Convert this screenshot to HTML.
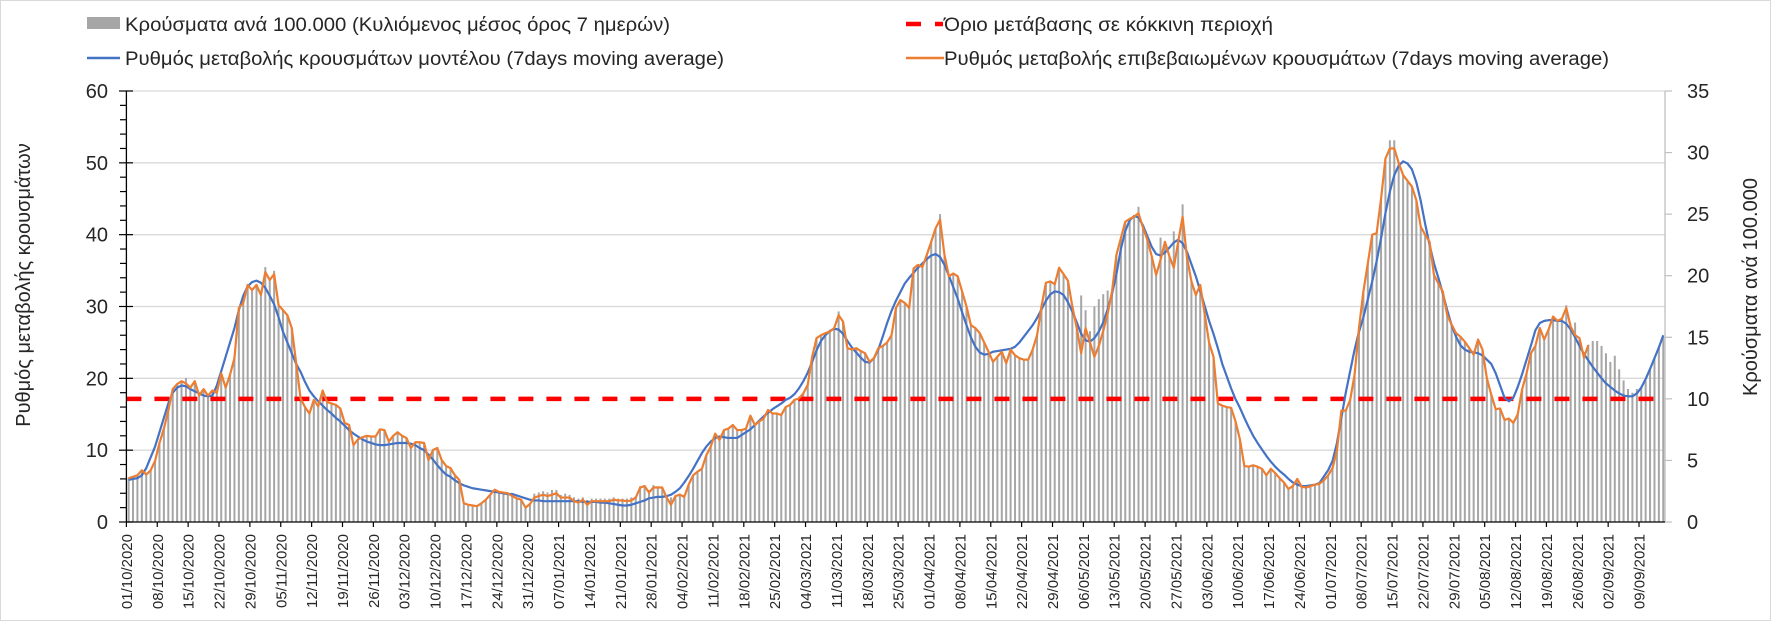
<!DOCTYPE html>
<html><head><meta charset="utf-8"><title>Chart</title>
<style>
html,body{margin:0;padding:0;background:#fff;}
svg{display:block;font-family:"Liberation Sans","DejaVu Sans",sans-serif;}
</style></head>
<body>
<svg id="chart" width="1771" height="621" viewBox="0 0 1771 621" xmlns="http://www.w3.org/2000/svg">
<rect x="0.5" y="0.5" width="1770" height="620" fill="#fff" stroke="#d9d9d9"/>
<g id="grid"></g>
<g id="bars"></g>
<g id="lines"></g>
<g id="axes"></g>
<text transform="translate(30,285) rotate(-90)" text-anchor="middle" font-size="20" fill="#262626">Ρυθμός μεταβολής κρουσμάτων</text>
<text transform="translate(1757,287) rotate(-90)" text-anchor="middle" font-size="20" fill="#262626">Κρούσματα ανά 100.000</text>
<g font-size="19" fill="#262626">
  <g>
    <rect x="87" y="17" width="33" height="12" fill="#a6a6a6"/>
    <text x="125" y="31" textLength="545" lengthAdjust="spacingAndGlyphs">Κρούσματα ανά 100.000 (Κυλιόμενος μέσος όρος 7 ημερών)</text>
  </g>
  <g>
    <line x1="87" y1="58" x2="120" y2="58" stroke="#4472c4" stroke-width="2.5"/>
    <text x="125" y="65" textLength="599" lengthAdjust="spacingAndGlyphs">Ρυθμός μεταβολής κρουσμάτων μοντέλου (7days moving average)</text>
  </g>
  <g>
    <line x1="906" y1="24" x2="921" y2="24" stroke="#ff0000" stroke-width="4.5"/>
    <line x1="935" y1="24" x2="943" y2="24" stroke="#ff0000" stroke-width="4.5"/>
    <text x="944" y="31" textLength="329" lengthAdjust="spacingAndGlyphs">Όριο μετάβασης σε κόκκινη περιοχή</text>
  </g>
  <g>
    <line x1="906" y1="58" x2="944" y2="58" stroke="#ed7d31" stroke-width="2.5"/>
    <text x="944" y="65" textLength="665" lengthAdjust="spacingAndGlyphs">Ρυθμός μεταβολής επιβεβαιωμένων κρουσμάτων (7days moving average)</text>
  </g>
</g>
</svg>
<script>
const tickLabels = ["01/10/2020","08/10/2020","15/10/2020","22/10/2020","29/10/2020","05/11/2020","12/11/2020","19/11/2020","26/11/2020","03/12/2020","10/12/2020","17/12/2020","24/12/2020","31/12/2020","07/01/2021","14/01/2021","21/01/2021","28/01/2021","04/02/2021","11/02/2021","18/02/2021","25/02/2021","04/03/2021","11/03/2021","18/03/2021","25/03/2021","01/04/2021","08/04/2021","15/04/2021","22/04/2021","29/04/2021","06/05/2021","13/05/2021","20/05/2021","27/05/2021","03/06/2021","10/06/2021","17/06/2021","24/06/2021","01/07/2021","08/07/2021","15/07/2021","22/07/2021","29/07/2021","05/08/2021","12/08/2021","19/08/2021","26/08/2021","02/09/2021","09/09/2021"];
const leftTicks = [0,10,20,30,40,50,60];
const rightTicks = [0,5,10,15,20,25,30,35];
const redThreshold = 10; // right-axis units
const confirmedRate = [
6.1,6.3,6.5,7.2,6.6,7.2,8.5,11,13,15.5,
18.5,19.2,19.6,19.3,18.7,19.6,17.6,18.5,17.6,18.3,
18,20.7,18.7,20.5,22.8,29.8,30.5,33,32.3,33,
31.6,34.8,33.7,34.5,30.2,29.5,28.8,27,22.1,17.2,
16,15.1,17,16.1,18.3,16.7,16.5,16.3,15.8,13.8,
13.5,10.7,11.5,11.8,12,11.9,11.9,12.9,12.8,11.2,
12,12.5,12,11.7,10.3,11.1,11.1,11,8.6,10,
10.3,8.6,7.8,7.5,6.5,5.85,2.6,2.4,2.3,2.2,
2.6,3.1,3.8,4.5,4.2,4.1,4,3.6,3.3,3.1,
2,2.5,3.4,3.6,3.8,3.6,3.8,4,3.4,3.4,
3.4,2.9,2.7,3.1,2.4,2.9,2.9,2.9,2.9,2.9,
3.1,3,3,2.9,3,3.4,4.8,5,4.1,4.8,
4.8,4.8,3.4,2.4,3.6,3.8,3.5,5.2,6.5,7,
7.4,9.3,10.5,12.3,11.4,12.8,13,13.5,12.8,12.8,
13,14.8,13.5,14,14.4,15.6,15.1,15.1,14.9,16,
16.3,17,17.2,17.9,19.1,23,25.6,26,26.3,26.5,
27,28.8,27.9,24.2,24,24.2,23.8,23.5,22.3,22.8,
24.2,24.5,25,26,29.8,30.9,30.5,29.8,35.3,35.8,
35.5,37.2,39,40.9,42.1,37.2,34.2,34.6,34.2,32.1,
30,27.4,27,26.3,25,23.7,22.3,23,23.7,22.1,
24,23.2,22.8,22.6,22.6,24,26,30,33.3,33.5,
33.1,35.4,34.5,33.6,30,27,23.5,27,25,23,
24.5,26.6,29,32.1,37.2,39.5,41.8,42.2,42.5,43,
41,39.3,37,34.4,36.5,39,37,35.4,39,42.5,
36.8,33.5,31.6,33,29,25,23,16.5,16.2,16,
15.9,14,11.5,7.8,7.7,7.9,7.7,7.4,6.5,7.4,
6.8,6.1,5.5,4.6,5,6,4.9,4.8,5,5.2,
5.3,5.8,6.5,7.5,10,15.5,15.5,17,20.5,27,
32.1,36,40,40.2,45,50.6,52,52,50,48.3,
47.5,46.7,44.8,41.1,40,39,34.4,33.2,32.1,28.8,
27.5,26.3,25.8,25.1,24.2,23.3,25.4,24,20,17.7,
15.7,15.8,14.2,14.4,13.8,15,18.5,20.7,23.5,24.5,
27,25.4,26.8,28.6,28,28.3,29.8,27.2,26,25.6,
22.9,24.6];
const modelRate = [
5.85,6,6.1,6.5,7.5,9,10.5,12.5,14.5,16.5,
18,18.7,19,18.9,18.5,18.2,17.9,17.6,17.5,17.6,
19,21,23,25,27,29.5,31.5,32.8,33.4,33.6,
33.3,32.6,31.5,30.3,28.5,26.5,25,23.5,22,20.9,
19.5,18.3,17.5,16.8,16.2,15.6,15.1,14.5,14,13.4,
12.8,12.3,11.9,11.5,11.2,11,10.8,10.7,10.7,10.8,
10.9,11,11,11,10.9,10.7,10.3,10,9.4,8.7,
7.9,7.2,6.6,6.3,5.8,5.4,5.1,4.9,4.7,4.6,
4.5,4.4,4.3,4.2,4.1,4,3.9,3.9,3.7,3.5,
3.3,3.1,3,3,2.9,2.9,2.9,2.9,2.9,2.9,
2.9,2.9,2.9,2.8,2.8,2.8,2.8,2.7,2.7,2.6,
2.5,2.4,2.3,2.3,2.4,2.6,2.8,3,3.3,3.4,
3.5,3.5,3.6,3.8,4.2,4.7,5.5,6.4,7.4,8.5,
9.6,10.5,11.2,11.7,11.9,11.8,11.7,11.7,11.7,12.1,
12.5,12.9,13.5,14.1,14.7,15.2,15.7,16.1,16.5,17,
17.3,17.8,18.6,19.6,20.8,22.3,23.9,25.2,26,26.6,
26.9,26.8,26.2,25.2,24.3,23.6,22.9,22.3,22.2,22.8,
24,25.8,27.7,29.4,30.8,32,33.2,34,34.7,35.4,
36,36.6,37.1,37.3,36.9,35.8,34.3,32.7,31.1,29.2,
27.4,25.7,24.4,23.6,23.3,23.4,23.7,23.8,23.9,24,
24.1,24.4,25,25.8,26.6,27.4,28.4,29.6,30.8,31.7,
32.1,32,31.6,30.6,29.3,27.8,26.2,25.3,25.1,25.6,
26.5,27.8,29.6,31.8,34.5,38,40.5,42,42.6,42.4,
41.3,39.8,38.3,37.3,37.1,37.5,38.2,38.9,39.3,38.8,
37.6,35.9,34.2,32.2,30.1,28,26.2,24.2,22,20.3,
18.6,17.1,15.9,14.5,13.2,12,11,10.1,9.2,8.4,
7.7,7.1,6.6,6,5.5,5.2,5,5,5.1,5.2,
5.4,6.3,7.2,8.5,11,14.5,18,21,24,26.5,
28.5,31,33.5,36.3,39.5,43,46,48.3,49.6,50.2,
49.9,49.1,47.3,44.7,41.5,38.6,36,34,31.8,29.5,
27.4,25.8,24.6,24,23.7,23.6,23.5,23.2,22.6,22,
20.7,19,17.3,16.8,17.3,18.8,20.6,22.6,24.6,26.7,
27.7,28,28.1,28.1,28,28,27.6,26.8,25.7,24.5,
23.4,22.5,21.6,20.8,20,19.3,18.8,18.3,17.9,17.6,
17.5,17.5,17.9,18.7,19.9,21.3,22.8,24.3,26];
const casesPer100k = [
3.6,3.7,3.8,4.2,3.9,4.2,5,6.4,7.6,9,
10.8,11.2,11.4,11.7,10.9,11.4,10.3,10.8,10.3,10.7,
10.5,12.1,10.9,12,13.3,17.4,17.8,19.3,18.8,19.3,
18.4,20.7,19.7,20.4,17.6,17.2,16.8,15.8,12.9,10,
9.3,8.8,9.9,9.4,10.7,9.7,9.6,9.5,9.2,8.1,
7.9,6.2,6.7,6.9,7,6.9,6.9,7.5,7.5,6.5,
7,7.3,7,6.8,6,6.5,6.5,6.4,5,5.8,
6,5,4.6,4.4,3.8,3.4,1.5,1.4,1.3,1.3,
1.5,1.8,2.2,2.6,2.5,2.4,2.3,2.1,1.9,1.8,
1.2,1.5,2.3,2.4,2.5,2.4,2.6,2.6,2.2,2.3,
2.2,2,1.9,2,1.8,1.9,1.9,1.9,1.9,1.9,
2,1.9,1.9,1.9,2,2.1,2.9,3,2.6,3,
2.9,2.8,2.2,2,2.2,2.3,2.2,3,3.8,4.1,
4.3,5.4,6.1,7.2,6.6,7.5,7.6,7.9,7.5,7.5,
7.6,8.6,7.9,8.2,8.4,9.1,8.8,8.8,8.7,9.3,
9.5,9.9,10,10.4,11.1,13.4,14.9,15.2,15.3,15.5,
15.8,17.1,16.3,14.1,14,14.1,13.9,13.7,13,13.3,
14.1,14.3,14.6,15.2,17.4,18,17.8,17.4,20.6,20.9,
20.7,21.7,22.8,23.9,25,21.7,19.9,20.2,20,18.7,
17.5,16,15.8,15.3,14.6,13.8,13,13.4,13.8,12.9,
14,13.5,13.3,13.2,13.2,14,15.2,17.5,19.4,19.5,
19.3,20.6,20.1,19.6,17.5,15.8,18.4,17.2,15.5,17.5,
18.1,18.5,18.8,18.7,21.7,23,24.4,24.6,24.8,25.6,
23.9,22.9,21.6,20.1,23.1,22.8,21.6,23.6,22.8,25.8,
21.5,19.5,18.4,19.3,16.9,14.6,13.4,9.6,9.4,9.3,
9.3,8.2,6.7,4.6,4.5,4.6,4.5,4.3,3.8,4.3,
4,3.6,3.2,2.7,2.9,3.5,2.9,2.8,2.9,3,
3.1,3.4,3.8,4.4,5.8,9,9,9.9,12,15.8,
18.7,21,23.3,23.5,26.3,29.5,31,31,29.2,28.2,
27.7,27.2,26.1,24,23.3,22.8,20.1,19.4,18.7,16.8,
16,15.3,15.1,14.6,14.1,13.6,14.8,14,11.7,10.3,
9.2,9.2,8.3,8.4,8.1,8.8,10.8,12.1,13.7,14.3,
15.8,14.8,15.6,16.7,16.3,16.5,17.6,15.9,16.2,14.9,
13.4,14.4,14.7,14.7,14.3,13.7,13,13.5,12.4,11.5,
10.8,10.5,10.8,11,11.5,12.5,13.3,14.2,15];

const NS = "http://www.w3.org/2000/svg";
const X0 = 126.4, DX = 4.41, YB = 522, YT = 91;
function xTick(d){ return X0 + DX*d; }
function xPt(d){ return X0 + DX*d + DX/2; }
function yL(v){ return YB - (YB-YT)*v/60; }
function yR(v){ return YB - (YB-YT)*v/35; }
function mk(tag, attrs, parent){ const e = document.createElementNS(NS, tag); for (const k in attrs) e.setAttribute(k, attrs[k]); parent.appendChild(e); return e; }

const grid = document.getElementById('grid');
const barsG = document.getElementById('bars');
const linesG = document.getElementById('lines');
const axes = document.getElementById('axes');
const XR = 1665;

leftTicks.forEach(v => {
  if (v === 0) return;
  const g = mk('line', {x1: X0, x2: XR, y1: yL(v), y2: yL(v), stroke: '#d9d9d9', 'stroke-width': 1.3}, grid);
  
  
});

casesPer100k.forEach((v, i) => {
  const r = mk('rect', {x: xPt(i) - 1, y: yR(v), width: 2, height: YB - yR(v), fill: '#a6a6a6'}, barsG);
  
  
});

function pathFor(arr){ return arr.map((v,i) => (i ? 'L' : 'M') + xPt(i).toFixed(2) + ' ' + yL(v).toFixed(2)).join(' '); }

const red = mk('line', {x1: X0, x2: 1655, y1: yR(redThreshold), y2: yR(redThreshold), stroke: '#ff0000', 'stroke-width': 4.5, 'stroke-dasharray': '15 13'}, linesG);



const blue = mk('path', {d: pathFor(modelRate), fill: 'none', stroke: '#4472c4', 'stroke-width': 2.2, 'stroke-linejoin': 'round'}, linesG);



const orange = mk('path', {d: pathFor(confirmedRate), fill: 'none', stroke: '#ed7d31', 'stroke-width': 2.2, 'stroke-linejoin': 'round'}, linesG);



// left axis
const la = mk('line', {x1: X0, x2: X0, y1: YT, y2: YB, stroke: '#000', 'stroke-width': 1.3}, axes);


for (let v = 0; v <= 60; v += 2) {
  const major = v % 10 === 0;
  mk('line', {x1: major ? 119 : 120, x2: major ? 133 : X0, y1: yL(v), y2: yL(v), stroke: '#000', 'stroke-width': 1.2}, axes);
}
leftTicks.forEach(v => {
  const t = mk('text', {x: 108, y: yL(v) + 7, 'text-anchor': 'end', 'font-size': 20, fill: '#262626'}, axes);
  t.textContent = v;
  
  
});
// right axis
const ra = mk('line', {x1: XR, x2: XR, y1: YT, y2: YB, stroke: '#bfbfbf', 'stroke-width': 1.3}, axes);


rightTicks.forEach(v => {
  mk('line', {x1: XR, x2: XR + 7, y1: yR(v), y2: yR(v), stroke: '#bfbfbf', 'stroke-width': 1.2}, axes);
  const t = mk('text', {x: 1687, y: yR(v) + 7, 'font-size': 20, fill: '#262626'}, axes);
  t.textContent = v;
  
  
});
// x axis
const xa = mk('line', {x1: X0, x2: XR, y1: YB, y2: YB, stroke: '#000', 'stroke-width': 1.3}, axes);


tickLabels.forEach((lab, k) => {
  const x = xTick(k*7);
  mk('line', {x1: x, x2: x, y1: YB, y2: YB + 5, stroke: '#000', 'stroke-width': 1.2}, axes);
  const t = mk('text', {transform: 'translate(' + (x + 5.5) + ',534) rotate(-90)', 'text-anchor': 'end', 'font-size': 15, fill: '#262626'}, axes);
  t.textContent = lab;
  
  
});
</script>
</body></html>
